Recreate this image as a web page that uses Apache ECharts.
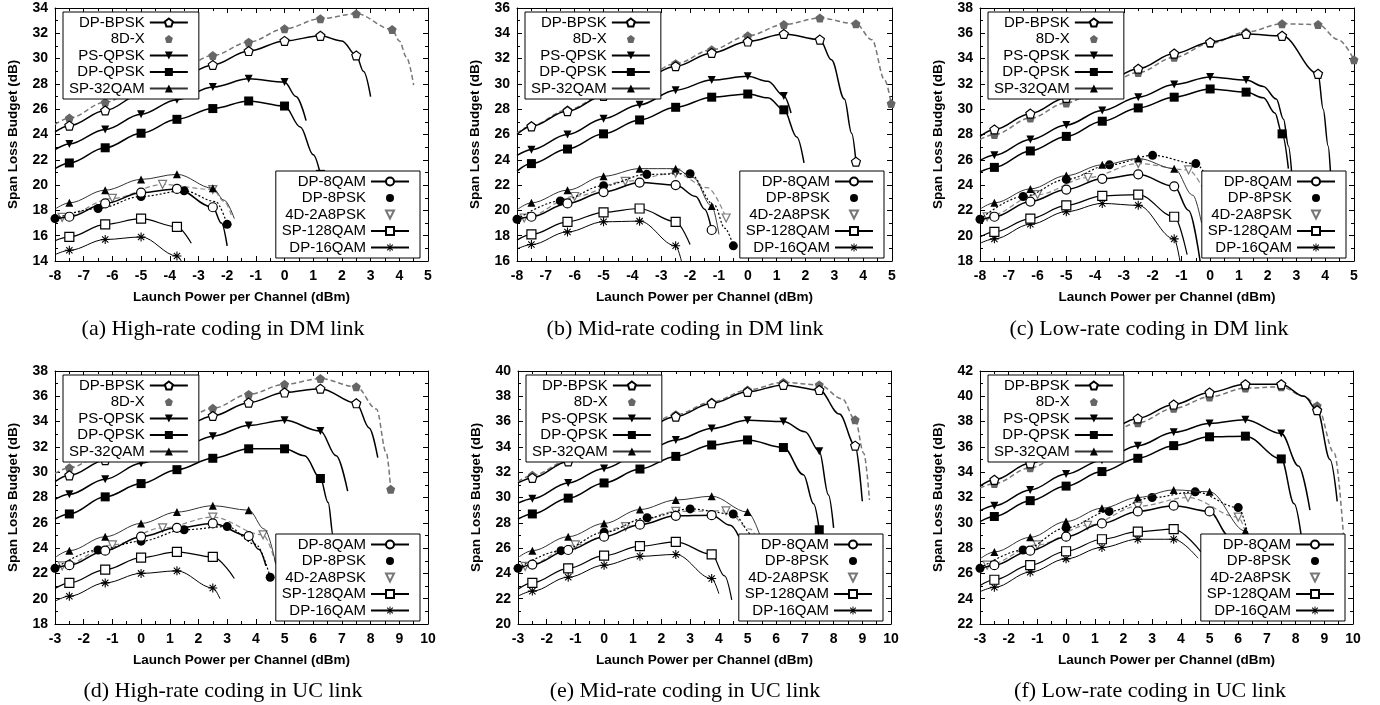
<!DOCTYPE html>
<html>
<head>
<meta charset="utf-8">
<script src="https://cdn.jsdelivr.net/npm/echarts@6/dist/echarts.min.js"></script>
<style>
  html, body { margin: 0; padding: 0; background: #fff; }
  #chart { width: 1380px; height: 705px; }
</style>
</head>
<body>
<div id="chart"></div>
<script>
// modulation formats, legend order
const names = ['DP-BPSK', '8D-X', 'PS-QPSK', 'DP-QPSK', 'SP-32QAM', 'DP-8QAM', 'DP-8PSK', '4D-2A8PSK', 'SP-128QAM', 'DP-16QAM']
const captions = [
  '(a) High-rate coding in DM link', '(b) Mid-rate coding in DM link', '(c) Low-rate coding in DM link',
  '(d) High-rate coding in UC link', '(e) Mid-rate coding in UC link', '(f) Low-rate coding in UC link'
]
const xRanges = [[-8, 5], [-8, 5], [-8, 5], [-3, 10], [-3, 10], [-3, 10]]
const yRanges = [[14, 34], [16, 36], [18, 38], [18, 38], [20, 40], [22, 42]]

// [x, y] = measured point (marker), [x, y, 0] = point on the fitted curve only
// (a) high-rate, DM
const a_dpbpsk = [[-8, 24.2, 0], [-7.5, 24.7], [-6.25, 25.9], [-5, 27.2], [-3.75, 28.4], [-2.5, 29.5], [-1.25, 30.6], [0, 31.4], [1.25, 31.8], [2.0, 31.4, 0], [2.5, 30.25], [2.75, 29.0, 0], [3.0, 27.0, 0]]
const a_8dx = [[-8, 24.8, 0], [-7.5, 25.3], [-6.25, 26.55], [-5, 27.8], [-3.75, 29.0], [-2.5, 30.25], [-1.25, 31.3], [0, 32.35], [1.25, 33.15], [2.5, 33.55], [3.75, 32.3], [4.0, 31.4, 0], [4.25, 30.1, 0], [4.5, 27.9, 0]]
const a_psqpsk = [[-8, 22.8, 0], [-7.5, 23.25], [-6.25, 24.4], [-5, 25.6], [-3.75, 26.75], [-2.5, 27.75], [-1.25, 28.4], [0, 28.15], [0.4, 27.0, 0], [0.75, 25.1, 0]]
const a_dpqpsk = [[-8, 21.3, 0], [-7.5, 21.75], [-6.25, 22.95], [-5, 24.1], [-3.75, 25.2], [-2.5, 26.05], [-1.25, 26.65], [0, 26.25], [0.55, 24.6, 0], [1.0, 22.4, 0], [1.25, 20.85]]
const a_sp32 = [[-8, 18.1, 0], [-7.5, 18.6], [-6.25, 19.6], [-5, 20.45], [-3.75, 20.85], [-2.5, 19.75], [-2.1, 18.8, 0], [-1.75, 17.35, 0]]
const a_dp8qam = [[-8, 17.3, 0], [-7.5, 17.5], [-6.25, 18.55], [-5, 19.4], [-3.75, 19.7], [-2.5, 18.25], [-2.2, 17.0, 0], [-2.0, 15.2, 0]]
const a_dp8psk = [[-8, 17.35], [-6.5, 18.15], [-5, 19.1], [-3.5, 19.55], [-2.4, 18.7, 0], [-2, 16.9]]
const a_4d = [[-8, 17.35, 0], [-7.75, 17.45], [-6, 18.95], [-4.25, 20.05], [-2.5, 19.65], [-2.1, 18.7, 0], [-1.85, 17.6, 0]]
const a_sp128 = [[-8, 15.6, 0], [-7.5, 15.9], [-6.25, 16.9], [-5, 17.35], [-3.75, 16.7], [-3.25, 15.4, 0]]
const a_dp16 = [[-8, 14.5, 0], [-7.5, 14.85], [-6.25, 15.7], [-5, 15.9], [-3.75, 14.4], [-3.6, 14.0, 0]]

// (b) mid-rate, DM
const b_dpbpsk = [[-8, 26.0, 0], [-7.5, 26.65], [-6.25, 27.85], [-5, 29.05], [-3.75, 30.3], [-2.5, 31.4], [-1.25, 32.45], [0, 33.35], [1.25, 33.95], [2.5, 33.5], [2.9, 31.9, 0], [3.35, 28.8, 0], [3.6, 26.1, 0], [3.75, 23.85]]
const b_8dx = [[-8, 26.1, 0], [-7.5, 26.7], [-6.25, 27.95], [-5, 29.1], [-3.75, 30.35], [-2.5, 31.6], [-1.25, 32.7], [0, 33.8], [1.25, 34.7], [2.5, 35.2], [3.75, 34.75], [4.3, 33.5, 0], [4.75, 30.3, 0], [4.97, 28.45]]
const b_psqpsk = [[-8, 24.35, 0], [-7.5, 24.8], [-6.25, 26.0], [-5, 27.25], [-3.75, 28.35], [-2.5, 29.5], [-1.25, 30.3], [0, 30.6], [0.7, 30.2, 0], [1.25, 29.05], [1.5, 27.7, 0]]
const b_dpqpsk = [[-8, 23.1, 0], [-7.5, 23.7], [-6.25, 24.85], [-5, 26.05], [-3.75, 27.15], [-2.5, 28.15], [-1.25, 28.95], [0, 29.2], [0.7, 28.9, 0], [1.25, 27.95], [1.7, 25.8, 0], [1.95, 23.75, 0]]
const b_sp32 = [[-8, 20.05, 0], [-7.5, 20.6], [-6.25, 21.6], [-5, 22.7], [-3.75, 23.3], [-2.5, 23.3], [-1.9, 22.6, 0], [-1.25, 20.35], [-1.0, 18.1, 0]]
const b_dp8qam = [[-8, 19.3, 0], [-7.5, 19.5], [-6.25, 20.55], [-5, 21.45], [-3.75, 22.2], [-2.5, 22.0], [-1.8, 21.1, 0], [-1.5, 20.1, 0], [-1.25, 18.45]]
const b_dp8psk = [[-8, 19.3], [-6.5, 20.75], [-5, 21.95], [-3.5, 22.85], [-2, 22.9], [-1.15, 20.4, 0], [-0.8, 18.6, 0], [-0.5, 17.2]]
const b_4d = [[-8, 19.25, 0], [-7.75, 19.4], [-6, 21.1], [-4.25, 22.3], [-2.5, 22.95], [-1.4, 21.8, 0], [-0.75, 19.4]]
const b_sp128 = [[-8, 17.65, 0], [-7.5, 18.1], [-6.25, 19.1], [-5, 19.85], [-3.75, 20.15], [-2.5, 19.1], [-2.0, 17.3, 0]]
const b_dp16 = [[-8, 16.95, 0], [-7.5, 17.3], [-6.25, 18.3], [-5, 19.1], [-3.75, 19.15], [-2.5, 17.2], [-2.3, 16.0, 0]]

// (c) low-rate, DM
const c_dpbpsk = [[-8, 27.85, 0], [-7.5, 28.4], [-6.25, 29.65], [-5, 30.9], [-3.75, 32.05], [-2.5, 33.2], [-1.25, 34.4], [0, 35.3], [1.25, 35.95], [2.5, 35.8], [3.75, 32.8], [3.93, 30.0, 0], [4.1, 27.1, 0], [4.25, 23.5, 0], [4.4, 19.0, 0]]
const c_8dx = [[-8, 27.6, 0], [-7.5, 28.0], [-6.25, 29.3], [-5, 30.5], [-3.75, 31.75], [-2.5, 32.9], [-1.25, 34.1], [0, 35.2], [1.25, 36.1], [2.5, 36.75], [3.75, 36.7], [4.45, 35.5, 0], [5.0, 33.9]]
const c_psqpsk = [[-8, 25.95, 0], [-7.5, 26.35], [-6.25, 27.6], [-5, 28.75], [-3.75, 29.9], [-2.5, 30.95], [-1.25, 31.95], [0, 32.55], [1.25, 32.3], [1.85, 31.8, 0], [2.3, 30.8, 0], [2.55, 29.2, 0], [2.72, 27.1, 0], [2.85, 24.5, 0]]
const c_dpqpsk = [[-8, 25.05, 0], [-7.5, 25.4], [-6.25, 26.7], [-5, 27.85], [-3.75, 29.05], [-2.5, 30.1], [-1.25, 30.95], [0, 31.6], [1.25, 31.35], [1.85, 30.9, 0], [2.25, 29.7, 0], [2.5, 28.05], [2.72, 25.3, 0]]
const c_sp32 = [[-8, 22.1, 0], [-7.5, 22.6], [-6.25, 23.7], [-5, 24.75], [-3.75, 25.6], [-2.5, 26.1], [-1.25, 25.3], [-0.6, 23.2, 0], [-0.3, 21.0, 0]]
const c_dp8qam = [[-8, 21.2, 0], [-7.5, 21.5], [-6.25, 22.7], [-5, 23.65], [-3.75, 24.5], [-2.5, 24.85], [-1.25, 23.9], [-0.75, 22.0, 0], [-0.35, 18.0, 0]]
const c_dp8psk = [[-8, 21.3], [-6.5, 23.1], [-5, 24.45], [-3.5, 25.6], [-2, 26.35], [-0.5, 25.7], [0.0, 24.0, 0]]
const c_4d = [[-8, 21.4, 0], [-7.75, 21.5], [-6, 23.25], [-4.25, 24.6], [-2.5, 25.7], [-0.75, 25.2], [-0.2, 23.5, 0]]
const c_sp128 = [[-8, 19.9, 0], [-7.5, 20.3], [-6.25, 21.35], [-5, 22.4], [-3.75, 23.15], [-2.5, 23.25], [-1.25, 21.5], [-0.8, 18.5, 0]]
const c_dp16 = [[-8, 19.4, 0], [-7.5, 19.75], [-6.25, 20.9], [-5, 21.9], [-3.75, 22.55], [-2.5, 22.4], [-1.25, 19.75], [-1.05, 18.0, 0]]

// (d) high-rate, UC
const d_dpbpsk = [[-3, 29.25, 0], [-2.5, 29.75], [-1.25, 30.95], [0, 32.2], [1.25, 33.35], [2.5, 34.45], [3.75, 35.5], [5, 36.3], [6.25, 36.6], [7.5, 35.45], [7.95, 33.5, 0], [8.25, 31.15, 0]]
const d_8dx = [[-3, 29.9, 0], [-2.5, 30.35], [-1.25, 31.5], [0, 32.6], [1.25, 33.85], [2.5, 35.05], [3.75, 36.15], [5, 36.95], [6.25, 37.4], [7.5, 36.75], [8.2, 35.0, 0], [8.55, 31.5, 0], [8.7, 28.65]]
const d_psqpsk = [[-3, 27.85, 0], [-2.5, 28.25], [-1.25, 29.45], [0, 30.7], [1.25, 31.8], [2.5, 32.85], [3.75, 33.7], [5, 34.1], [6.25, 33.25], [6.8, 31.3, 0], [7.2, 28.5, 0]]
const d_dpqpsk = [[-3, 26.3, 0], [-2.5, 26.7], [-1.25, 28.05], [0, 29.1], [1.25, 30.2], [2.5, 31.1], [3.75, 31.85], [5, 31.85], [5.7, 31.3, 0], [6.25, 29.5], [6.52, 27.6, 0], [6.7, 24.9, 0], [6.8, 23.0, 0]]
const d_sp32 = [[-3, 23.25, 0], [-2.5, 23.8], [-1.25, 24.9], [0, 25.95], [1.25, 26.85], [2.5, 27.35], [3.75, 27.0], [4.3, 25.5, 0], [4.7, 22.7, 0]]
const d_dp8qam = [[-3, 22.4, 0], [-2.5, 22.65], [-1.25, 23.8], [0, 24.9], [1.25, 25.6], [2.5, 25.95], [3.75, 24.95], [4.1, 23.9, 0], [4.35, 22.6, 0]]
const d_dp8psk = [[-3, 22.4], [-1.5, 23.85], [0, 24.55], [1.5, 25.45], [3, 25.7], [4.0, 24.3, 0], [4.5, 21.7]]
const d_4d = [[-3, 22.5, 0], [-2.75, 22.6], [-1, 24.25], [0.75, 25.6], [2.5, 26.45], [4.25, 25.05], [4.7, 22.7, 0]]
const d_sp128 = [[-3, 20.8, 0], [-2.5, 21.25], [-1.25, 22.3], [0, 23.25], [1.25, 23.7], [2.5, 23.3], [3.25, 21.6, 0]]
const d_dp16 = [[-3, 19.8, 0], [-2.5, 20.2], [-1.25, 21.25], [0, 22.0], [1.25, 22.2], [2.5, 20.85], [2.75, 20.0, 0]]

// (e) mid-rate, UC
const e_dpbpsk = [[-3, 31.15, 0], [-2.5, 31.55], [-1.25, 32.85], [0, 34.1], [1.25, 35.3], [2.5, 36.4], [3.75, 37.45], [5, 38.35], [6.25, 38.9], [7.5, 38.5], [8.2, 36.6, 0], [8.75, 34.1], [9.0, 29.7, 0]]
const e_8dx = [[-3, 31.25, 0], [-2.5, 31.75], [-1.25, 32.9], [0, 34.15], [1.25, 35.35], [2.5, 36.55], [3.75, 37.55], [5, 38.5], [6.25, 39.1], [7.5, 38.9], [8.3, 37.8, 0], [8.75, 36.15], [9.05, 33.5, 0], [9.25, 29.8, 0]]
const e_psqpsk = [[-3, 29.55, 0], [-2.5, 29.9], [-1.25, 31.15], [0, 32.3], [1.25, 33.45], [2.5, 34.55], [3.75, 35.45], [5, 36.1], [6.25, 36.0], [7.0, 35.2, 0], [7.5, 33.65], [7.82, 30.2, 0], [8.0, 27.6, 0]]
const e_dpqpsk = [[-3, 28.3, 0], [-2.5, 28.7], [-1.25, 29.95], [0, 31.15], [1.25, 32.25], [2.5, 33.25], [3.75, 34.15], [5, 34.55], [6.25, 33.95], [6.95, 31.8, 0], [7.3, 29.5, 0], [7.5, 27.45]]
const e_sp32 = [[-3, 25.25, 0], [-2.5, 25.8], [-1.25, 26.9], [0, 27.95], [1.25, 29.05], [2.5, 29.8], [3.75, 30.1], [5, 28.85], [5.45, 26.9, 0]]
const e_dp8qam = [[-3, 24.35, 0], [-2.5, 24.7], [-1.25, 25.85], [0, 26.9], [1.25, 27.85], [2.5, 28.55], [3.75, 28.6], [4.4, 27.8, 0], [4.7, 26.9, 0]]
const e_dp8psk = [[-3, 24.4], [-1.5, 25.8], [0, 27.25], [1.5, 28.4], [3, 29.1], [4.5, 28.7], [5.2, 27.0, 0], [5.5, 25.5, 0]]
const e_4d = [[-3, 24.45, 0], [-2.75, 24.55], [-1, 26.25], [0.75, 27.7], [2.5, 28.9], [4.25, 28.95], [5.1, 27.5, 0], [5.5, 25.5, 0]]
const e_sp128 = [[-3, 22.75, 0], [-2.5, 23.25], [-1.25, 24.4], [0, 25.4], [1.25, 26.15], [2.5, 26.5], [3.75, 25.5], [4.2, 23.8, 0], [4.45, 21.9, 0]]
const e_dp16 = [[-3, 22.2, 0], [-2.5, 22.6], [-1.25, 23.7], [0, 24.65], [1.25, 25.35], [2.5, 25.5], [3.75, 23.6], [4.0, 22.4, 0]]

// (f) low-rate, UC
const f_dpbpsk = [[-3, 32.9, 0], [-2.5, 33.4], [-1.25, 34.7], [0, 35.9], [1.25, 37.1], [2.5, 38.25], [3.75, 39.35], [5, 40.3], [6.25, 40.95], [7.5, 40.95], [8.3, 40.0, 0], [8.75, 38.9], [9.2, 35.0, 0], [9.45, 31.7, 0]]
const f_8dx = [[-3, 32.75, 0], [-2.5, 33.1], [-1.25, 34.35], [0, 35.6], [1.25, 36.8], [2.5, 37.9], [3.75, 39.05], [5, 39.95], [6.25, 40.65], [7.5, 40.75], [8.3, 40.0, 0], [8.75, 39.25], [9.35, 35.5, 0], [9.7, 28.0, 0]]
const f_psqpsk = [[-3, 30.95, 0], [-2.5, 31.35], [-1.25, 32.6], [0, 33.85], [1.25, 34.95], [2.5, 36.1], [3.75, 37.15], [5, 37.85], [6.25, 38.15], [7.5, 37.05], [8.1, 34.5, 0], [8.5, 31.0, 0]]
const f_dpqpsk = [[-3, 30.1, 0], [-2.5, 30.5], [-1.25, 31.75], [0, 32.9], [1.25, 34.05], [2.5, 35.1], [3.75, 36.1], [5, 36.8], [6.25, 36.85], [7.5, 35.05], [7.95, 31.5, 0], [8.2, 28.9, 0]]
const f_sp32 = [[-3, 27.15, 0], [-2.5, 27.7], [-1.25, 28.85], [0, 30.1], [1.25, 31.15], [2.5, 32.0], [3.75, 32.6], [5, 32.45], [6.25, 29.35], [6.4, 28.0, 0]]
const f_dp8qam = [[-3, 26.35, 0], [-2.5, 26.65], [-1.25, 27.8], [0, 28.9], [1.25, 29.95], [2.5, 30.9], [3.75, 31.35], [5, 30.9], [5.7, 28.9, 0], [6.0, 27.0, 0]]
const f_dp8psk = [[-3, 26.4], [-1.5, 27.85], [0, 29.6], [1.5, 30.9], [3, 32.0], [4.5, 32.45], [6, 31.2], [6.4, 28.5, 0]]
const f_4d = [[-3, 26.55, 0], [-2.75, 26.65], [-1, 28.25], [0.75, 29.8], [2.5, 31.3], [4.25, 32.0], [6, 30.45], [6.35, 28.5, 0]]
const f_sp128 = [[-3, 25.05, 0], [-2.5, 25.5], [-1.25, 26.65], [0, 27.75], [1.25, 28.7], [2.5, 29.3], [3.75, 29.5], [4.7, 27.7, 0]]
const f_dp16 = [[-3, 24.55, 0], [-2.5, 24.9], [-1.25, 26.1], [0, 27.15], [1.25, 28.05], [2.5, 28.7], [3.75, 28.7], [4.6, 27.2, 0]]

const panelData = [
  [a_dpbpsk, a_8dx, a_psqpsk, a_dpqpsk, a_sp32, a_dp8qam, a_dp8psk, a_4d, a_sp128, a_dp16],
  [b_dpbpsk, b_8dx, b_psqpsk, b_dpqpsk, b_sp32, b_dp8qam, b_dp8psk, b_4d, b_sp128, b_dp16],
  [c_dpbpsk, c_8dx, c_psqpsk, c_dpqpsk, c_sp32, c_dp8qam, c_dp8psk, c_4d, c_sp128, c_dp16],
  [d_dpbpsk, d_8dx, d_psqpsk, d_dpqpsk, d_sp32, d_dp8qam, d_dp8psk, d_4d, d_sp128, d_dp16],
  [e_dpbpsk, e_8dx, e_psqpsk, e_dpqpsk, e_sp32, e_dp8qam, e_dp8psk, e_4d, e_sp128, e_dp16],
  [f_dpbpsk, f_8dx, f_psqpsk, f_dpqpsk, f_sp32, f_dp8qam, f_dp8psk, f_4d, f_sp128, f_dp16]
]

// layout
const grids = [
  {left: 55, top: 8, width: 373, height: 253},
  {left: 517, top: 8, width: 375, height: 253},
  {left: 980, top: 8, width: 374, height: 253},
  {left: 55, top: 371, width: 373, height: 253},
  {left: 518, top: 371, width: 373, height: 253},
  {left: 980, top: 371, width: 373, height: 253}
]
const captionPos = [[223, 329], [685, 329], [1149, 329], [223, 691], [685, 691], [1150, 691]]

const PENTAGON = 'path://M0,-10L9.51,-3.09L5.88,8.09L-5.88,8.09L-9.51,-3.09Z'
const ASTERISK = 'path://M-5,-0.6L5,-0.6L5,0.6L-5,0.6Z M-0.6,-5L0.6,-5L0.6,5L-0.6,5Z M-3.92,-3.08L-3.08,-3.92L3.92,3.08L3.08,3.92Z M3.08,-3.92L3.92,-3.08L-3.08,3.92L-3.92,3.08Z'
const hollow = c => ({color: '#fff', borderColor: c, borderWidth: 1.2})

const styles = {
  'DP-BPSK': {symbol: PENTAGON, size: 9, item: hollow('#000'), line: {color: '#000', width: 1.5}},
  '8D-X': {symbol: PENTAGON, size: 9, item: {color: '#666'}, line: {color: '#777', width: 1.5, type: [5, 3]}},
  'PS-QPSK': {symbol: 'triangle', rotate: 180, size: 8, item: {color: '#000'}, line: {color: '#000', width: 1.5}},
  'DP-QPSK': {symbol: 'rect', size: 9, item: {color: '#000'}, line: {color: '#000', width: 1.5}},
  'SP-32QAM': {symbol: 'triangle', size: 8, item: {color: '#000'}, line: {color: '#333', width: 1}},
  'DP-8QAM': {symbol: 'circle', size: 9, item: hollow('#000'), line: {color: '#000', width: 1.5}},
  'DP-8PSK': {symbol: 'circle', size: 9, item: {color: '#000'}, line: {color: '#000', width: 1.2, type: [2, 2]}},
  '4D-2A8PSK': {symbol: 'triangle', rotate: 180, size: 8, item: hollow('#777'), line: {color: '#888', width: 1.2, type: [5, 3]}},
  'SP-128QAM': {symbol: 'rect', size: 9, item: hollow('#000'), line: {color: '#000', width: 1.2}},
  'DP-16QAM': {symbol: ASTERISK, size: 9, item: {color: '#000'}, line: {color: '#000', width: 1}}
}
const markerOnly = ['8D-X', 'DP-8PSK', '4D-2A8PSK']

const font = 'Liberation Sans, Arial, Helvetica, sans-serif'
const tickCfg = {
  axisLine: {onZero: false, lineStyle: {color: '#000', width: 1}},
  axisTick: {inside: true, length: 5, lineStyle: {color: '#000'}},
  minorTick: {show: true, splitNumber: 2, length: 3, lineStyle: {color: '#000'}},
  splitLine: {show: false}
}

const xAxis = []
const yAxis = []
const series = []
const legend = []
const graphic = []

grids.forEach((g, i) => {
  const [x0, x1] = xRanges[i]
  const [y0, y1] = yRanges[i]
  xAxis.push({
    type: 'value', gridIndex: i, min: x0, max: x1, interval: 1, ...tickCfg,
    name: 'Launch Power per Channel (dBm)', nameLocation: 'middle', nameGap: 29,
    nameTextStyle: {color: '#000', fontFamily: font, fontSize: 13.5, fontWeight: 'bold'},
    axisLabel: {color: '#000', fontFamily: font, fontSize: 14, fontWeight: 'bold', margin: 8}
  })
  xAxis.push({
    type: 'value', gridIndex: i, position: 'top', min: x0, max: x1, interval: 1, ...tickCfg,
    axisLabel: {show: false}
  })
  yAxis.push({
    type: 'value', gridIndex: i, min: y0, max: y1, interval: 2, ...tickCfg,
    name: 'Span Loss Budget (dB)', nameLocation: 'middle', nameGap: 35,
    nameTextStyle: {color: '#000', fontFamily: font, fontSize: 13.5, fontWeight: 'bold'},
    axisLabel: {color: '#000', fontFamily: font, fontSize: 14, fontWeight: 'bold', margin: 7}
  })
  yAxis.push({
    type: 'value', gridIndex: i, position: 'right', min: y0, max: y1, interval: 2, ...tickCfg,
    axisLabel: {show: false}
  })

  names.forEach((n, k) => {
    const st = styles[n]
    series.push({
      type: 'line',
      name: n,
      xAxisIndex: 2 * i,
      yAxisIndex: 2 * i,
      data: panelData[i][k].map(p => p.length > 2 ? {value: [p[0], p[1]], symbol: 'none'} : {value: [p[0], p[1]]}),
      smooth: 0.35,
      smoothMonotone: 'x',
      symbol: st.symbol,
      symbolSize: st.size,
      symbolRotate: st.rotate || 0,
      itemStyle: st.item,
      lineStyle: st.line,
      silent: true,
      z: 2 + (10 - k) * 0.01
    })
  })

  const legendBase = {
    orient: 'vertical',
    align: 'right',
    itemWidth: 38,
    itemHeight: 10,
    itemGap: 1.5,
    selectedMode: false,
    backgroundColor: '#fff',
    borderColor: '#000',
    borderWidth: 1,
    borderRadius: 0,
    padding: [3, 10, 3, 6],
    textStyle: {color: '#000', fontFamily: font, fontSize: 15, lineHeight: 15},
    z: 10
  }
  const legendItems = list => list.map(n => markerOnly.includes(n) ? {name: n, lineStyle: {opacity: 0}} : {name: n})
  legend.push({...legendBase, left: g.left + 8, top: g.top + 4, data: legendItems(names.slice(0, 5))})
  legend.push({
    ...legendBase,
    right: 1380 - (g.left + g.width - 8),
    bottom: 705 - (g.top + g.height - 3),
    data: legendItems(names.slice(5))
  })

  graphic.push({
    type: 'text',
    x: captionPos[i][0],
    y: captionPos[i][1],
    style: {
      text: captions[i],
      fill: '#000',
      font: '22px "Liberation Serif", "Times New Roman", serif',
      textAlign: 'center',
      textVerticalAlign: 'middle'
    }
  })
})

const chart = echarts.init(document.getElementById('chart'), null, {renderer: 'canvas'})
chart.setOption({
  animation: false,
  backgroundColor: '#fff',
  grid: grids.map(g => ({...g, containLabel: false, outerBoundsMode: 'none'})),
  xAxis,
  yAxis,
  legend,
  series,
  graphic
})
</script>
</body>
</html>
